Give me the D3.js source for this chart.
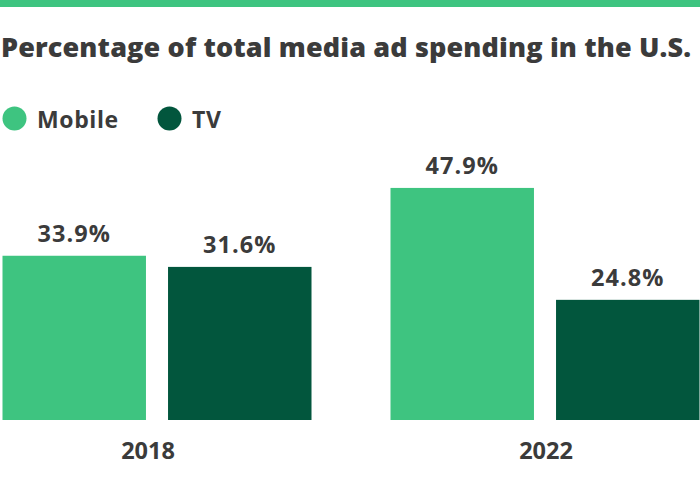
<!DOCTYPE html>
<html><head><meta charset="utf-8">
<script src="https://cdn.jsdelivr.net/npm/d3@7"></script>
<style>
html,body{margin:0;padding:0;background:#fff;}
svg{display:block;}
</style></head>
<body>
<svg id="chart" width="700" height="483"></svg>
<script>
const years = ["2018", "2022"];
const seriesNames = ["Mobile", "TV"];
const mobileValues = [33.9, 47.9];
const tvValues = [31.6, 24.8];
const valueLabels = [["33.9%", "31.6%"], ["47.9%", "24.8%"]];
const colors = ["#3ec480", "#02563d"];
const title = "Percentage of total media ad spending in the U.S.";

const rows = years.map((y, i) => ({year: y, values: [mobileValues[i], tvValues[i]], labels: valueLabels[i]}));

const svg = d3.select("#chart");
const W = 700;
const textColor = "#3b3b3b";

// top accent bar
svg.append("rect").attr("x", 0).attr("y", 0).attr("width", W).attr("height", 7).attr("fill", "#3ec480");

// title
const t = svg.append("text").attr("x", 1).attr("y", 57)
  .attr("font-family", "Open Sans").attr("font-weight", 800).attr("font-size", 27)
  .attr("fill", textColor).text(title);
const tw = t.node().getComputedTextLength();
const targetW = 690;
t.attr("letter-spacing", ((targetW - tw) / (title.length - 1)).toFixed(3));

// legend
const legendX = [14.5, 169.5];
const lg = svg.append("g").selectAll("g").data(seriesNames).join("g")
  .attr("transform", (d, i) => `translate(${legendX[i]},118.5)`);
lg.append("circle").attr("r", 12).attr("fill", (d, i) => colors[i]);
lg.append("text").attr("x", 22.5).attr("y", 9)
  .attr("font-family", "Open Sans").attr("font-weight", 700).attr("font-size", 23)
  .attr("letter-spacing", 0.6)
  .attr("fill", textColor).text(d => d);

// scales
const baseY = 420;
const y = d3.scaleLinear().domain([0, 50]).range([baseY, baseY - 242.25]);
const x0 = d3.scaleBand().domain(years).range([2.5, 699.5]).paddingInner(79 / 388).paddingOuter(0);
const x1 = d3.scaleBand().domain(seriesNames).range([0, x0.bandwidth()]).paddingInner(22 / 165).paddingOuter(0);
const xLabel = d3.scalePoint().domain(years).range([148, 546]);

const groups = svg.append("g").selectAll("g").data(rows).join("g")
  .attr("transform", d => `translate(${x0(d.year)},0)`);

groups.selectAll("rect").data(d => d.values.map((v, i) => ({s: seriesNames[i], v, label: d.labels[i], i})))
  .join("rect")
  .attr("x", d => x1(d.s)).attr("width", x1.bandwidth())
  .attr("y", d => y(d.v)).attr("height", d => baseY - y(d.v))
  .attr("fill", d => colors[d.i]);

groups.selectAll("text.val").data(d => d.values.map((v, i) => ({s: seriesNames[i], v, label: d.labels[i], i})))
  .join("text").attr("class", "val")
  .attr("x", d => x1(d.s) + x1.bandwidth() / 2).attr("y", d => y(d.v) - 13.5)
  .attr("text-anchor", "middle")
  .attr("font-family", "Open Sans").attr("font-weight", 700).attr("font-size", 23.5)
  .attr("letter-spacing", 1.1)
  .attr("fill", textColor).text(d => d.label);

// x axis labels
svg.append("g").selectAll("text").data(years).join("text")
  .attr("x", d => xLabel(d)).attr("y", 459)
  .attr("text-anchor", "middle")
  .attr("font-family", "Open Sans").attr("font-weight", 700).attr("font-size", 23.5)
  .attr("fill", textColor).text(d => d);
</script>
</body></html>
